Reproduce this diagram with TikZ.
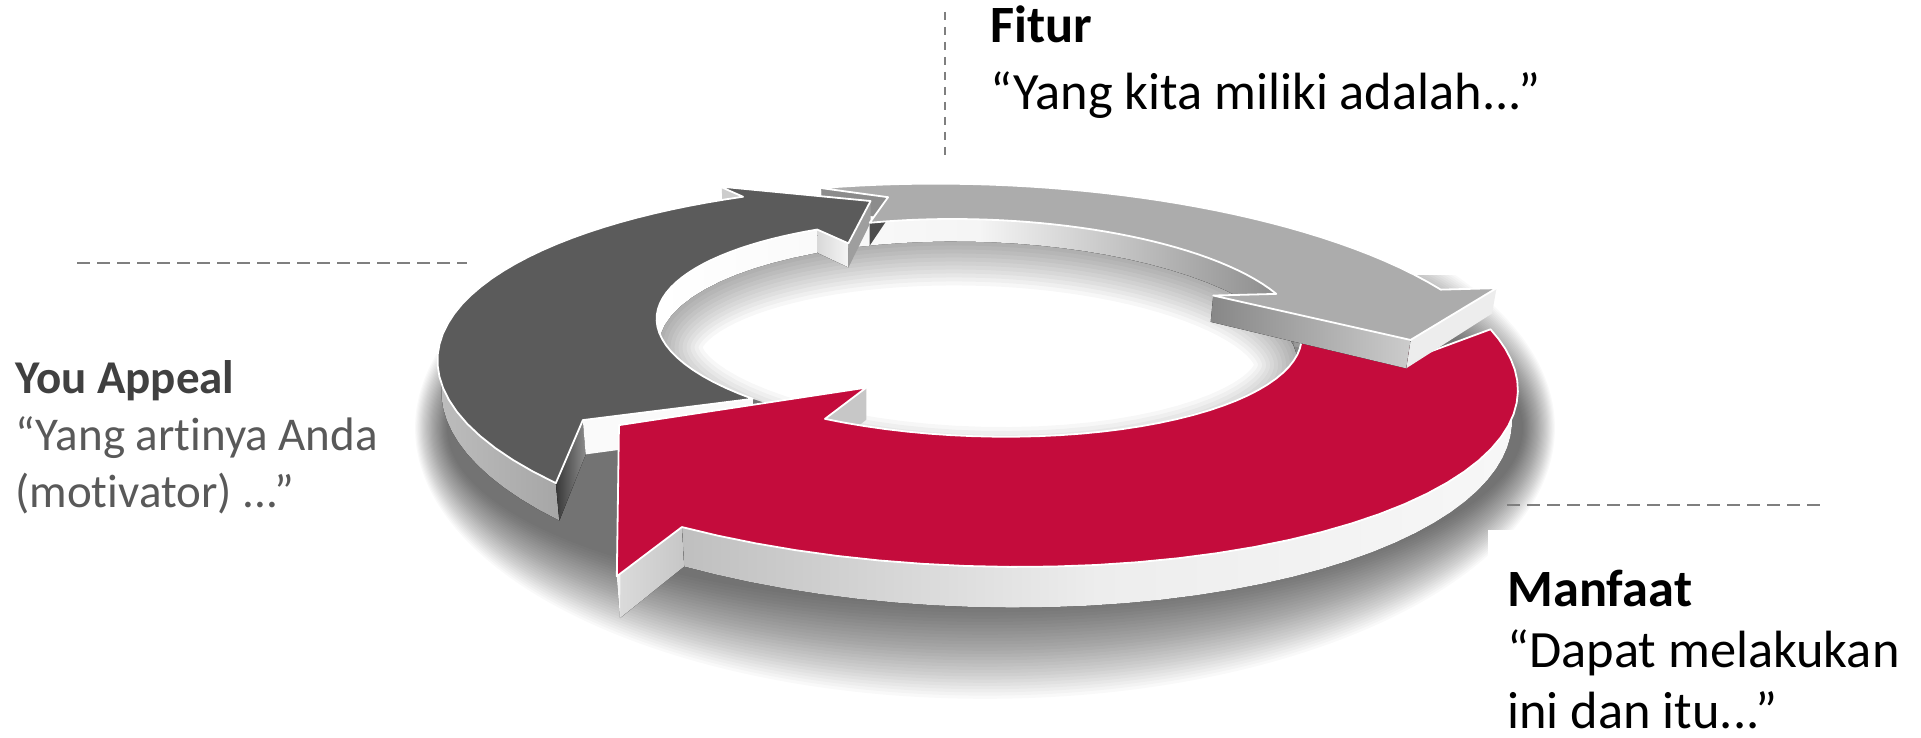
\documentclass[tikz,border=0pt]{standalone}
\usepackage{fontspec}
\setmainfont{Carlito}[Ligatures=NoCommon]
\definecolor{dk}{HTML}{5B5B5B}
\definecolor{lt}{HTML}{ACACAC}
\definecolor{rd}{HTML}{C40C3C}
\definecolor{dashc}{HTML}{7F7F7F}
\definecolor{txg}{HTML}{404040}
\definecolor{txh}{HTML}{595959}
\newcommand{\wallq}[5]{\fill[#5] ({PX(#1,#2,0)},{PY(#1,#2,0)}) -- ({PX(#3,#4,0)},{PY(#3,#4,0)}) -- ({PX(#3,#4,-0.058)},{PY(#3,#4,-0.058)}) -- ({PX(#1,#2,-0.058)},{PY(#1,#2,-0.058)}) -- cycle;}
\newcommand{\wallarc}[4]{\fill[#4] plot[domain=#1:#2,samples=40,variable=\qt] ({PX(\qt,#3,0)},{PY(\qt,#3,0)}) -- plot[domain=#2:#1,samples=40,variable=\qt] ({PX(\qt,#3,-0.058)},{PY(\qt,#3,-0.058)}) -- cycle;}
\tikzset{
  arrowshape/.style n args={4}{insert path={({PX(#1,1,0)},{PY(#1,1,0)}) -- plot[domain=#1:#3,samples=36,variable=\qt] ({PX(\qt,1,0)},{PY(\qt,1,0)}) -- ({PX(#3,1.13,0)},{PY(#3,1.13,0)}) -- ({PX(#4,0.83,0)},{PY(#4,0.83,0)}) -- ({PX(#3,0.49,0)},{PY(#3,0.49,0)}) -- plot[domain=#3:#1,samples=36,variable=\qt] ({PX(\qt,0.628,0)},{PY(\qt,0.628,0)}) -- ({PX(#2,0.86,0)},{PY(#2,0.86,0)}) -- cycle}},
  topface/.style={draw=white, line width=0.9pt, line join=round},
  dashh/.style={draw=dashc, line width=1.35pt, dash pattern=on 6.5pt off 3.5pt},
  dashv/.style={draw=dashc, line width=1.2pt, dash pattern=on 4.2pt off 3.3pt},
  bigtxt/.style={anchor=base west, inner sep=0pt, font=\fontsize{26.2}{31}\selectfont},
  bigbold/.style={bigtxt, font=\fontsize{26.2}{31}\selectfont\bfseries},
  smtxt/.style={anchor=base west, inner sep=0pt, text=txh, font=\fontsize{23.5}{28}\selectfont},
  smbold/.style={smtxt, text=txg, font=\fontsize{23.5}{28}\selectfont\bfseries},
}
\begin{document}
\begin{tikzpicture}[x=0.5pt, y=-0.5pt,
  declare function={
    qd(\qa,\qb,\qc)=1+0.386*\qb*sin(\qa)-0.133*\qc;
    qu(\qa,\qb,\qc)=498.6*\qb*cos(\qa)/qd(\qa,\qb,\qc);
    qv(\qa,\qb,\qc)=498.6*(0.326*\qb*sin(\qa)+0.946*\qc)/qd(\qa,\qb,\qc);
    PX(\qa,\qb,\qc)=980+0.9995*qu(\qa,\qb,\qc)+0.0314*qv(\qa,\qb,\qc);
    PY(\qa,\qb,\qc)=301.6+0.0314*qu(\qa,\qb,\qc)-0.9995*qv(\qa,\qb,\qc);
  }]
\useasboundingbox (0,0) rectangle (1921,738);
\fill[white] (0,0) rectangle (1921,738);

% soft shadow of the ring
\begin{scope}
  \clip (412,275) rectangle (1921,738);
  \foreach \i in {0,...,29}
    \fill[black, opacity=0.024] (985,428) ellipse [x radius={538+1.1*\i}, y radius={178+3.2*\i}];
\end{scope}
\fill[white] (1488,530) rectangle (1921,738);

% hole floor with soft shadow
\begin{scope}
  \clip plot[domain=0:360,samples=90,variable=\qt] ({PX(\qt,0.628,0)},{PY(\qt,0.628,0)}) -- cycle;
  \fill[white] (0,0) rectangle (1921,738);
  \foreach \w in {4,8,...,44}
    \draw[black, opacity=0.03, line width=\w*1pt] plot[domain=0:360,samples=90,variable=\qt] ({PX(\qt,0.628,-0.058)},{PY(\qt,0.628,-0.058)}) -- cycle;
\end{scope}

% inner wall of the hole (far side)
\wallarc{-14}{194}{0.628}{left color=white, right color=black!48, middle color=black!4}

% outer walls
\wallarc{235}{128.8}{1}{left color=black!26, right color=black!48}
\wallarc{116}{10}{1}{fill=black!18}
\wallarc{-4}{-112}{1}{left color=black!25, right color=black!3, middle color=black!7}

% tail walls
\wallq{235}{1}{225.6}{0.86}{left color=black!78, right color=black!45}
\wallq{225.6}{0.86}{235}{0.628}{fill=black!2}
\wallq{116}{1}{107}{0.86}{fill=black!45}
\wallq{107}{0.86}{116}{0.628}{fill=black!70}
\wallq{-4}{1}{-13.6}{0.86}{fill=black!40}
\wallq{-13.6}{0.86}{-4}{0.628}{fill=black!40}

% head walls of the dark and the red arrow
\wallq{128.8}{1}{128.8}{1.12}{fill=black!20}
\wallq{110.7}{0.83}{128.8}{0.49}{fill=black!38}
\wallq{128.8}{0.49}{128.8}{0.628}{left color=black!15, right color=black!4}
\wallq{-112}{1}{-112}{1.13}{left color=black!14, right color=black!22}
\wallq{-112}{1.13}{-130.8}{0.83}{fill=black!4}
\wallq{-112}{0.49}{-112}{0.628}{fill=black!22}

% top faces
\fill[rd, topface, arrowshape={-4}{-13.6}{-112}{-130.8}];
\fill[dk, topface, arrowshape={235}{225.6}{128.8}{110.7}];

% head walls of the light arrow, then its top face
\wallq{10}{1.13}{-10}{0.83}{fill=black!7}
\wallq{-10}{0.83}{10}{0.49}{left color=black!47, right color=black!20}
\fill[lt, topface, arrowshape={116}{107}{10}{-10}];

% dashed leader lines
\coordinate (v1) at (945,12);
\coordinate (v2) at (945,157);
\draw[dashv] (v1) -- (v2);
\coordinate (h1) at (77,263);
\coordinate (h2) at (467,263);
\draw[dashh] (h1) -- (h2);
\coordinate (r1) at (1507,505);
\coordinate (r2) at (1820,505);
\draw[dashh] (r1) -- (r2);

% texts
\node[bigbold] (fitur) at (990,43) {Fitur};
\node[bigtxt] (fiturq) at (990,110) {“Yang kita miliki adalah...”};
\node[smbold] (ya) at (15,393) {You Appeal};
\node[smtxt] (yaq1) at (15,450) {“Yang artinya Anda};
\node[smtxt] (yaq2) at (15,507) {(motivator) ...”};
\node[bigbold] (mf) at (1507,606) {Manfaat};
\node[bigtxt] (mfq1) at (1507,667) {“Dapat melakukan};
\node[bigtxt] (mfq2) at (1507,728) {ini dan itu...”};
\end{tikzpicture}
\end{document}
